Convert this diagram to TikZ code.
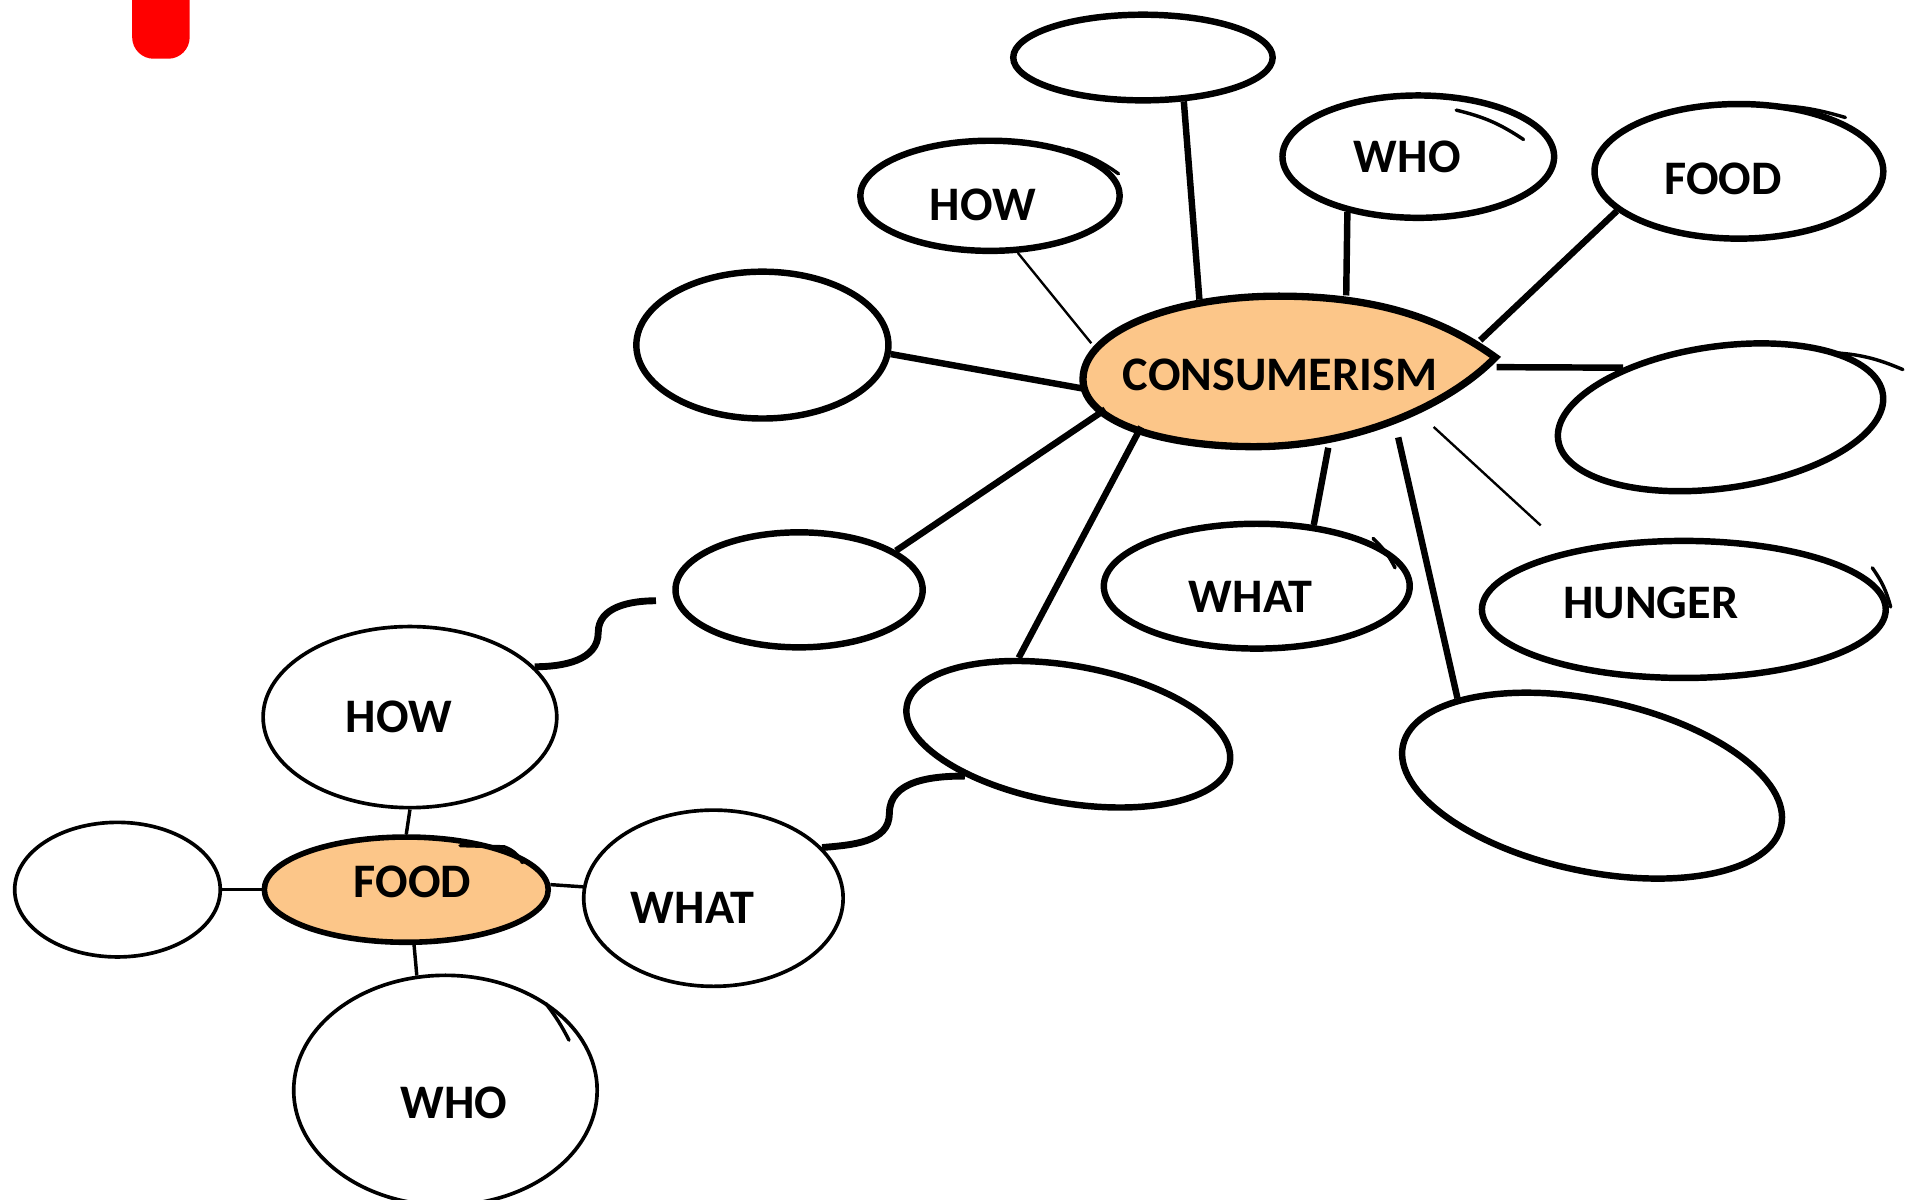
\documentclass[tikz,border=0pt]{standalone}
\usepackage{fontspec}
\setmainfont{Carlito}
\usetikzlibrary{shapes.geometric}
\definecolor{hubfill}{RGB}{252,198,137}
% move a label inside its bubble without changing the box
\newcommand{\nudge}[3]{\raisebox{#2}[\height][\depth]{\kern#1#3\kern-#1}}
\begin{document}
\begin{tikzpicture}[x=0.1mm,y=-0.1mm]
  \tikzstyle{every node}=[ellipse,draw,line width=1.5pt,inner sep=0pt,font=\fontsize{11.2}{13}\selectfont\bfseries]
  \tikzstyle{thin bubble}=[line width=0.85pt]
  \tikzstyle{hub}=[fill=hubfill,line width=1.7pt]
  \tikzstyle{spoke}=[line width=1.5pt]
  \tikzstyle{twig}=[line width=0.55pt]
  \tikzstyle{link}=[line width=0.8pt]
  \tikzstyle{curl}=[line width=1.6pt]
  \tikzstyle{tail}=[line width=0.8pt,line cap=round]

  \useasboundingbox (0,0) rectangle (1560,980);

  % red tab in the corner
  \fill[red,rounded corners=5pt] (108,-20) rectangle (155,48);

  % the leaf behind CONSUMERISM
  \draw[hub] (1222,292) .. controls (1175,258) and (1120,242) .. (1045,242)
    .. controls (960,242) and (885,270) .. (885,310)
    .. controls (885,345) and (950,365) .. (1025,365)
    .. controls (1110,365) and (1185,330) .. (1222,292) -- cycle;
  \node[draw=none,inner xsep=-1mm,minimum width=33.7mm,minimum height=12.3mm] (cons) at (1052,303) {\nudge{-0.6mm}{-0.3mm}{CONSUMERISM}};

  % bubbles round CONSUMERISM
  \node[minimum width=21.2mm,minimum height=7mm] (e1) at (934,47) {};
  \node[minimum width=21.2mm,minimum height=9mm] (how) at (809,160) {\nudge{-0.6mm}{-0.7mm}{HOW}};
  \node[minimum width=22.2mm,minimum height=10mm] (who) at (1159,128) {\nudge{-0.9mm}{0mm}{WHO}};
  \node[minimum width=23.6mm,minimum height=11mm] (food) at (1421,140) {\nudge{-1.3mm}{-0.6mm}{FOOD}};
  \node[minimum width=20.6mm,minimum height=12mm] (e2) at (623,282) {};
  \node[minimum width=26.8mm,minimum height=11.6mm,rotate=8] (e3) at (1406,341) {};
  \node[minimum width=20.2mm,minimum height=9.4mm] (e4) at (653,482) {};
  \node[minimum width=25mm,minimum height=10.2mm] (what) at (1027,479) {\nudge{-0.5mm}{-0.9mm}{WHAT}};
  \node[minimum width=33mm,minimum height=11.2mm] (hunger) at (1376,498) {\nudge{-2.7mm}{0.5mm}{HUNGER}};
  \node[minimum width=26.8mm,minimum height=11.2mm,rotate=-10] (e5) at (873,600) {};
  \node[minimum width=31.6mm,minimum height=14mm,rotate=-12] (e6) at (1301,642) {};

  % spokes
  \foreach \a/\b in {cons.141/e1.313, cons.52/who.218, cons.9/food.198, cons.1/e3.145,
    cons.185/e2.356, cons.192/e4.22, cons.201/e5.133, cons.298/what.47, cons.329/e6.159} {
    \draw[spoke] (\a) -- (\b);
  }
  \draw[twig] (cons.172) -- (how.296);
  \draw[twig,shorten >=3mm] (cons.339) -- (hunger.153);

  % the small FOOD cluster
  \node[hub,line width=1.3pt,minimum width=23.2mm,minimum height=8.6mm] (food2) at (332,727) {\nudge{0.5mm}{0.6mm}{FOOD}};
  \node[thin bubble,minimum width=24mm,minimum height=14.8mm] (how2) at (335,586) {\nudge{-0.9mm}{0mm}{HOW}};
  \node[thin bubble,minimum width=16.8mm,minimum height=11mm] (e7) at (96,727) {};
  \node[thin bubble,minimum width=21.2mm,minimum height=14.4mm] (what2) at (583,734) {\nudge{-1.7mm}{-0.8mm}{WHAT}};
  \node[thin bubble,minimum width=24.8mm,minimum height=18.8mm] (who2) at (364,891) {\nudge{0.7mm}{-1mm}{WHO}};

  \foreach \a/\b in {food2.90/how2.270, food2.180/e7.0, food2.2/what2.175, food2.278/who2.104} {
    \draw[link] (\a) -- (\b);
  }

  % curly links between the clusters
  \draw[curl] (how2.22) to[out=0,in=-90] ++(52,-28) to[out=90,in=180] ([xshift=-1.5mm]e4.185);
  \draw[curl] (what2.25) to[out=5,in=-90] ++(55,-28) to[out=90,in=180] (e5.212);

  % pen overshoots
  \draw[tail] (1190,90) to[bend left=10] (1245,114);
  \draw[tail] (1440,86) to[bend left=8] (1508,96);
  \draw[tail] (1495,288) to[bend left=10] (1555,302);
  \draw[tail] (1530,464) to[bend left=10] (1545,496);
  \draw[tail] (1122,440) to[bend left=10] (1140,464);
  \draw[tail] (872,122) to[bend left=10] (914,142);
  \draw[tail] (376,691) -- (412,692) to[bend left=20] (427,705);
  \draw[tail] (446,820) to[bend left=5] (465,850);
\end{tikzpicture}
\end{document}
